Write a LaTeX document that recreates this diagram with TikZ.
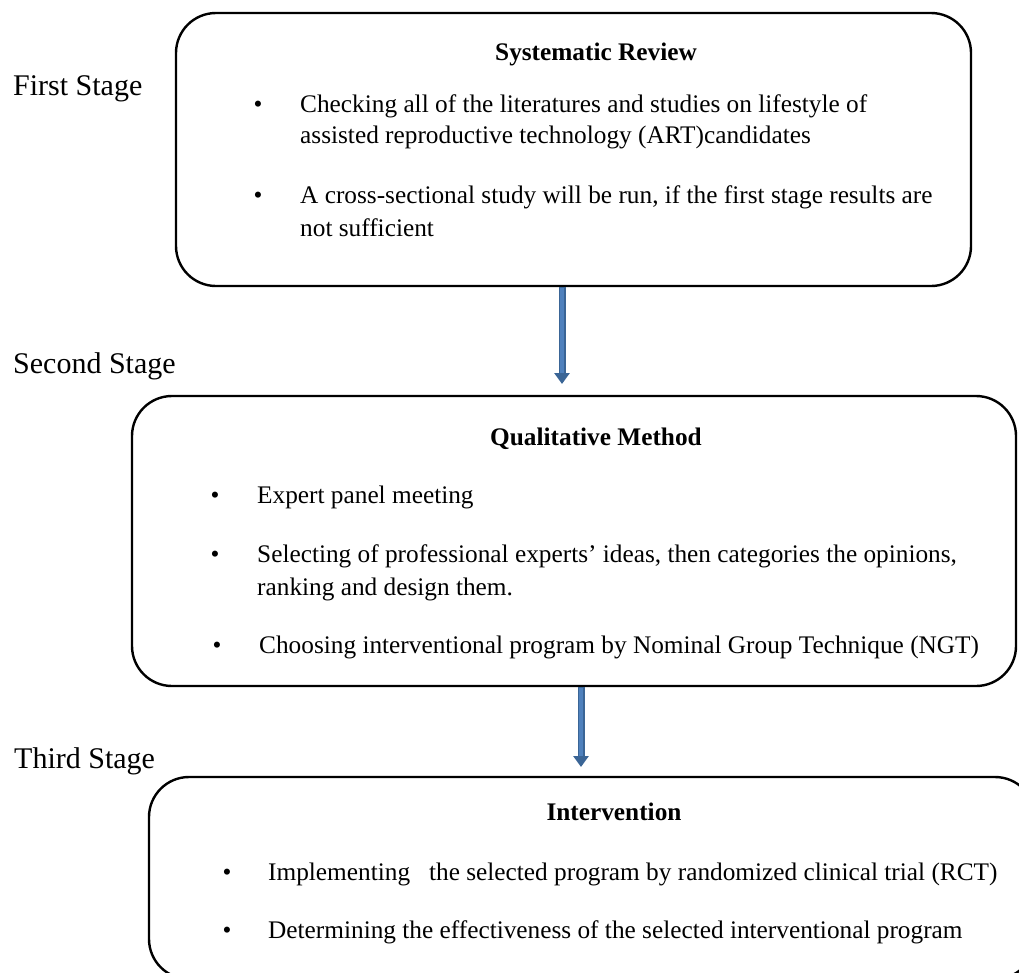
\documentclass[tikz,border=0pt]{standalone}
\usepackage{fontspec}
\setmainfont{Liberation Serif}
\usepackage{tikz}
\usetikzlibrary{arrows.meta,positioning}
\definecolor{arrowblue}{HTML}{4F81BD}
\definecolor{arrowedge}{HTML}{3A6596}
\tikzset{
  stagebox/.style={
    rectangle, draw=black, line width=2.4pt,
    rounded corners=40pt, inner sep=0pt
  },
  stagelabel/.style={
    anchor=base west, inner sep=0pt,
    font=\fontsize{30}{36}\selectfont
  },
  boxtitle/.style={
    anchor=base, inner sep=0pt,
    font=\fontsize{25.3}{30}\selectfont\bfseries
  },
  itemtext/.style={
    anchor=base west, inner sep=0pt,
    font=\fontsize{25.3}{30}\selectfont
  },
  itemdot/.style={
    anchor=base, inner sep=0pt,
    font=\fontsize{25.3}{30}\selectfont
  },
  stagearrow/.style={
    line width=7pt, draw=arrowedge, fill=arrowedge,
    -{Triangle[length=11pt,width=15pt]}
  },
  arrowcore/.style={
    line width=3.6pt, draw=arrowblue, shorten >=11pt, shorten <=1pt
  },
}

\begin{document}
\begin{tikzpicture}[x=1pt,y=-1pt]
  \useasboundingbox (0,0) rectangle (1019,972);
  \clip (0,0) rectangle (1019,972);

  % Stage labels
  \node[stagelabel] (lab1) at (13,95) {First Stage};
  \node[stagelabel] (lab2) at (13,373) {Second Stage};
  \node[stagelabel] (lab3) at (14,768) {Third Stage};

  % Boxes
  \node[stagebox, minimum width=795pt, minimum height=273pt] (sysrev) at (573.5,149.5) {};
  \node[stagebox, minimum width=884pt, minimum height=290pt] (qual) at (574,541) {};
  \node[stagebox, minimum width=886pt, minimum height=202pt] (interv) at (592,878) {};

  % First stage
  \node[boxtitle] (sysrevtitle) at (596,60) {Systematic Review};
  \node[itemdot] (d11) at (258,112) {•};
  \node[itemtext] (t11) at (300,112) {Checking all of the literatures and studies on lifestyle of};
  \node[itemtext] (t12) at (300,143) {assisted reproductive technology (ART)candidates};
  \node[itemdot] (d12) at (258,203) {•};
  \node[itemtext] (t13) at (300,203) {A cross-sectional study will be run, if the first stage results are};
  \node[itemtext] (t14) at (300,236) {not sufficient};

  % Second stage
  \node[boxtitle] (qualtitle) at (596,445) {Qualitative Method};
  \node[itemdot] (d21) at (215,503) {•};
  \node[itemtext] (t21) at (257,503) {Expert panel meeting};
  \node[itemdot] (d22) at (215,562) {•};
  \node[itemtext] (t22) at (257,562) {Selecting of professional experts’ ideas, then categories the opinions,};
  \node[itemtext] (t23) at (257,595) {ranking and design them.};
  \node[itemdot] (d23) at (217,653) {•};
  \node[itemtext] (t24) at (259,653) {Choosing interventional program by Nominal Group Technique (NGT)};

  % Third stage
  \node[boxtitle] (intervtitle) at (614,820) {Intervention};
  \node[itemdot] (d31) at (227,880) {•};
  \node[itemtext] (t31) at (268,880) {Implementing\ \ \ the selected program by randomized clinical trial (RCT)};
  \node[itemdot] (d32) at (227,938) {•};
  \node[itemtext] (t32) at (268,938) {Determining the effectiveness of the selected interventional program};

  % Arrows
  \coordinate (tip1) at (562,384);
  \coordinate (tip2) at (581,767);
  \draw[stagearrow] (sysrev.south -| tip1) -- (tip1);
  \draw[arrowcore] (sysrev.south -| tip1) -- (tip1);
  \draw[stagearrow] (qual.south -| tip2) -- (tip2);
  \draw[arrowcore] (qual.south -| tip2) -- (tip2);
\end{tikzpicture}
\end{document}
